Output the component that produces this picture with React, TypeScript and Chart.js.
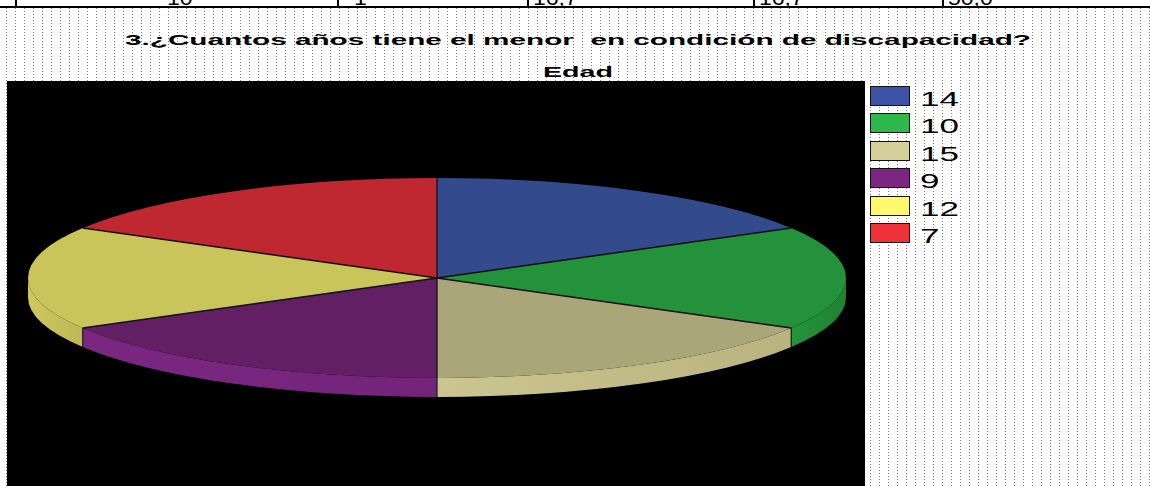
import React, { useEffect, useRef } from "react";
import { Chart, registerables } from "chart.js";

Chart.register(...registerables);

// ---- data ----
const ageLabels = ["14", "10", "15", "9", "12", "7"];
const frequencies = [1, 1, 1, 1, 1, 1];
const topColors = ["#334a8c", "#24923a", "#aaa67a", "#621f63", "#c9c55a", "#bf2830"];
const sideLight = ["#3a53a0", "#25943b", "#cbc690", "#7b2781", "#cdc85e", "#c92c35"];
const sideDark = ["#2d427d", "#1f8232", "#b9b47f", "#73247a", "#bdb855", "#a8232a"];
const legendColors = ["#3c52a5", "#2eb84b", "#d5d09b", "#7b2681", "#fef86c", "#ef3139"];
const titleText = "3.¿Cuantos años tiene el menor  en condición de discapacidad?";
const subtitleText = "Edad";
const tableRowCells = ["10", "1", "16,7", "16,7", "50,0"];
const tableCellX = [167, 354, 533, 759, 948];
const tableBorderX = [15, 337, 527, 753, 942];

// ---- layout (perspective of the tilted pie) ----
const PLOT = { left: 7, top: 81, width: 858, height: 405 };
const ELL = { cx: 437 - 7, cy: 278 - 81, rx: 409, ry: 100, depth: 19 };
const FONT = "'Liberation Sans', Arial, Helvetica, sans-serif";

let measureCtx: CanvasRenderingContext2D | null = null;
function measure(text: string, font: string): number {
  if (!measureCtx) measureCtx = document.createElement("canvas").getContext("2d");
  measureCtx!.font = font;
  return measureCtx!.measureText(text).width;
}

function StretchText(props: {
  text: string;
  left: number;
  baseline: number;
  size: number;
  bold?: boolean;
  width?: number;
  scale?: number;
}) {
  const weight = props.bold ? "bold" : "normal";
  const font = `${weight} ${props.size}px ${FONT}`;
  const natural = measure(props.text, font);
  const sx = props.width ? props.width / natural : props.scale || 1;
  return (
    <div
      style={{
        position: "absolute",
        left: props.left,
        top: props.baseline - 0.8465 * props.size,
        fontFamily: FONT,
        fontWeight: weight as any,
        fontSize: props.size,
        lineHeight: `${props.size}px`,
        whiteSpace: "pre",
        color: "#000",
        transform: `scaleX(${sx})`,
        transformOrigin: "left top",
      }}
    >
      {props.text}
    </div>
  );
}

const pie3d = {
  id: "pie3d",
  beforeDatasetsDraw(chart: any) {
    const ctx: CanvasRenderingContext2D = chart.ctx;
    const meta = chart.getDatasetMeta(0);
    const { cx, cy, rx, ry, depth } = ELL;
    // extruded side band for the front half of the disc
    meta.data.forEach((arc: any, i: number) => {
      const p = arc.getProps(["startAngle", "endAngle"], true);
      const a = Math.max(p.startAngle, 0);
      const b = Math.min(p.endAngle, Math.PI);
      if (b <= a) return;
      const xa = cx + rx * Math.cos(a);
      const xb = cx + rx * Math.cos(b);
      const g = ctx.createLinearGradient(Math.min(xa, xb), 0, Math.max(xa, xb), 0);
      g.addColorStop(0, sideLight[i]);
      g.addColorStop(1, sideDark[i]);
      ctx.save();
      ctx.beginPath();
      ctx.ellipse(cx, cy, rx, ry, 0, a, b, false);
      ctx.ellipse(cx, cy + depth, rx, ry, 0, b, a, true);
      ctx.closePath();
      ctx.fillStyle = g;
      ctx.fill();
      ctx.restore();
    });
    // side separators
    meta.data.forEach((arc: any) => {
      const s = arc.getProps(["startAngle"], true).startAngle;
      const n = ((s % (2 * Math.PI)) + 2 * Math.PI) % (2 * Math.PI);
      if (n > 0.001 && n < Math.PI - 0.001) {
        const x = cx + rx * Math.cos(n);
        const y = cy + ry * Math.sin(n);
        ctx.save();
        ctx.strokeStyle = "#1a1a1a";
        ctx.lineWidth = 1.2;
        ctx.beginPath();
        ctx.moveTo(x, y);
        ctx.lineTo(x, y + depth);
        ctx.stroke();
        ctx.restore();
      }
    });
    // squash the library's circular pie into the tilted ellipse
    const first = meta.data[0];
    const R = first.outerRadius;
    ctx.save();
    ctx.translate(cx, cy);
    ctx.scale(rx / R, ry / R);
    ctx.translate(-first.x, -first.y);
  },
  afterDatasetsDraw(chart: any) {
    const ctx: CanvasRenderingContext2D = chart.ctx;
    ctx.restore();
    const meta = chart.getDatasetMeta(0);
    const { cx, cy, rx, ry } = ELL;
    meta.data.forEach((arc: any) => {
      const s = arc.getProps(["startAngle"], true).startAngle;
      ctx.save();
      ctx.strokeStyle = "#111";
      ctx.lineWidth = 1.3;
      ctx.beginPath();
      ctx.moveTo(cx, cy);
      ctx.lineTo(cx + rx * Math.cos(s), cy + ry * Math.sin(s));
      ctx.stroke();
      ctx.restore();
    });
  },
};

function PieChart() {
  const ref = useRef<HTMLCanvasElement>(null);
  useEffect(() => {
    const chart = new Chart(ref.current!, {
      type: "pie",
      data: {
        labels: ageLabels,
        datasets: [
          {
            data: frequencies,
            backgroundColor: topColors,
            borderWidth: 0,
            clip: false as any,
          },
        ],
      },
      options: {
        animation: false,
        responsive: false,
        devicePixelRatio: 1,
        layout: { padding: 0 },
        plugins: {
          legend: { display: false },
          title: { display: false },
          tooltip: { enabled: false },
        },
        events: [],
      },
      plugins: [pie3d],
    });
    return () => chart.destroy();
  }, []);
  return <canvas ref={ref} width={PLOT.width} height={PLOT.height} style={{ display: "block" }} />;
}

export default function App() {
  return (
    <div
      style={{
        position: "absolute",
        left: 0,
        top: 0,
        width: 1150,
        height: 486,
        overflow: "hidden",
        background: "#fff",
      }}
    >
      {/* dotted paper */}
      <div
        style={{
          position: "absolute",
          left: 0,
          top: 8,
          width: 1150,
          height: 478,
          backgroundImage: "conic-gradient(from 0deg at 1px 1px, transparent 75%, #7f7f7f 0)",
          backgroundSize: "9px 3px",
          backgroundPosition: "6px 0px",
        }}
      />
      {/* cut-off table row above the chart */}
      <div style={{ position: "absolute", left: 0, top: 6, width: 1150, height: 1.5, background: "#000" }} />
      {tableBorderX.map((x, i) => (
        <div key={"b" + i} style={{ position: "absolute", left: x, top: 0, width: 1.5, height: 7, background: "#000" }} />
      ))}
      {tableRowCells.map((t, i) => (
        <StretchText key={"t" + i} text={t} left={tableCellX[i]} baseline={5} size={20} scale={1.15} />
      ))}

      <StretchText text={titleText} left={125} baseline={45} size={15.5} bold width={906} />
      <StretchText text={subtitleText} left={543} baseline={77} size={15.5} bold width={70} />

      <div
        style={{
          position: "absolute",
          left: PLOT.left,
          top: PLOT.top,
          width: PLOT.width,
          height: PLOT.height,
          background: "#000",
        }}
      >
        <PieChart />
      </div>

      {ageLabels.map((lab, i) => (
        <React.Fragment key={lab}>
          <div
            style={{
              position: "absolute",
              left: 870,
              top: 86 + i * 27.4,
              width: 38,
              height: 18,
              background: legendColors[i],
              border: "1px solid #111",
            }}
          />
          <StretchText text={lab} left={920} baseline={106 + i * 27.4} size={20} scale={1.75} />
        </React.Fragment>
      ))}
    </div>
  );
}
